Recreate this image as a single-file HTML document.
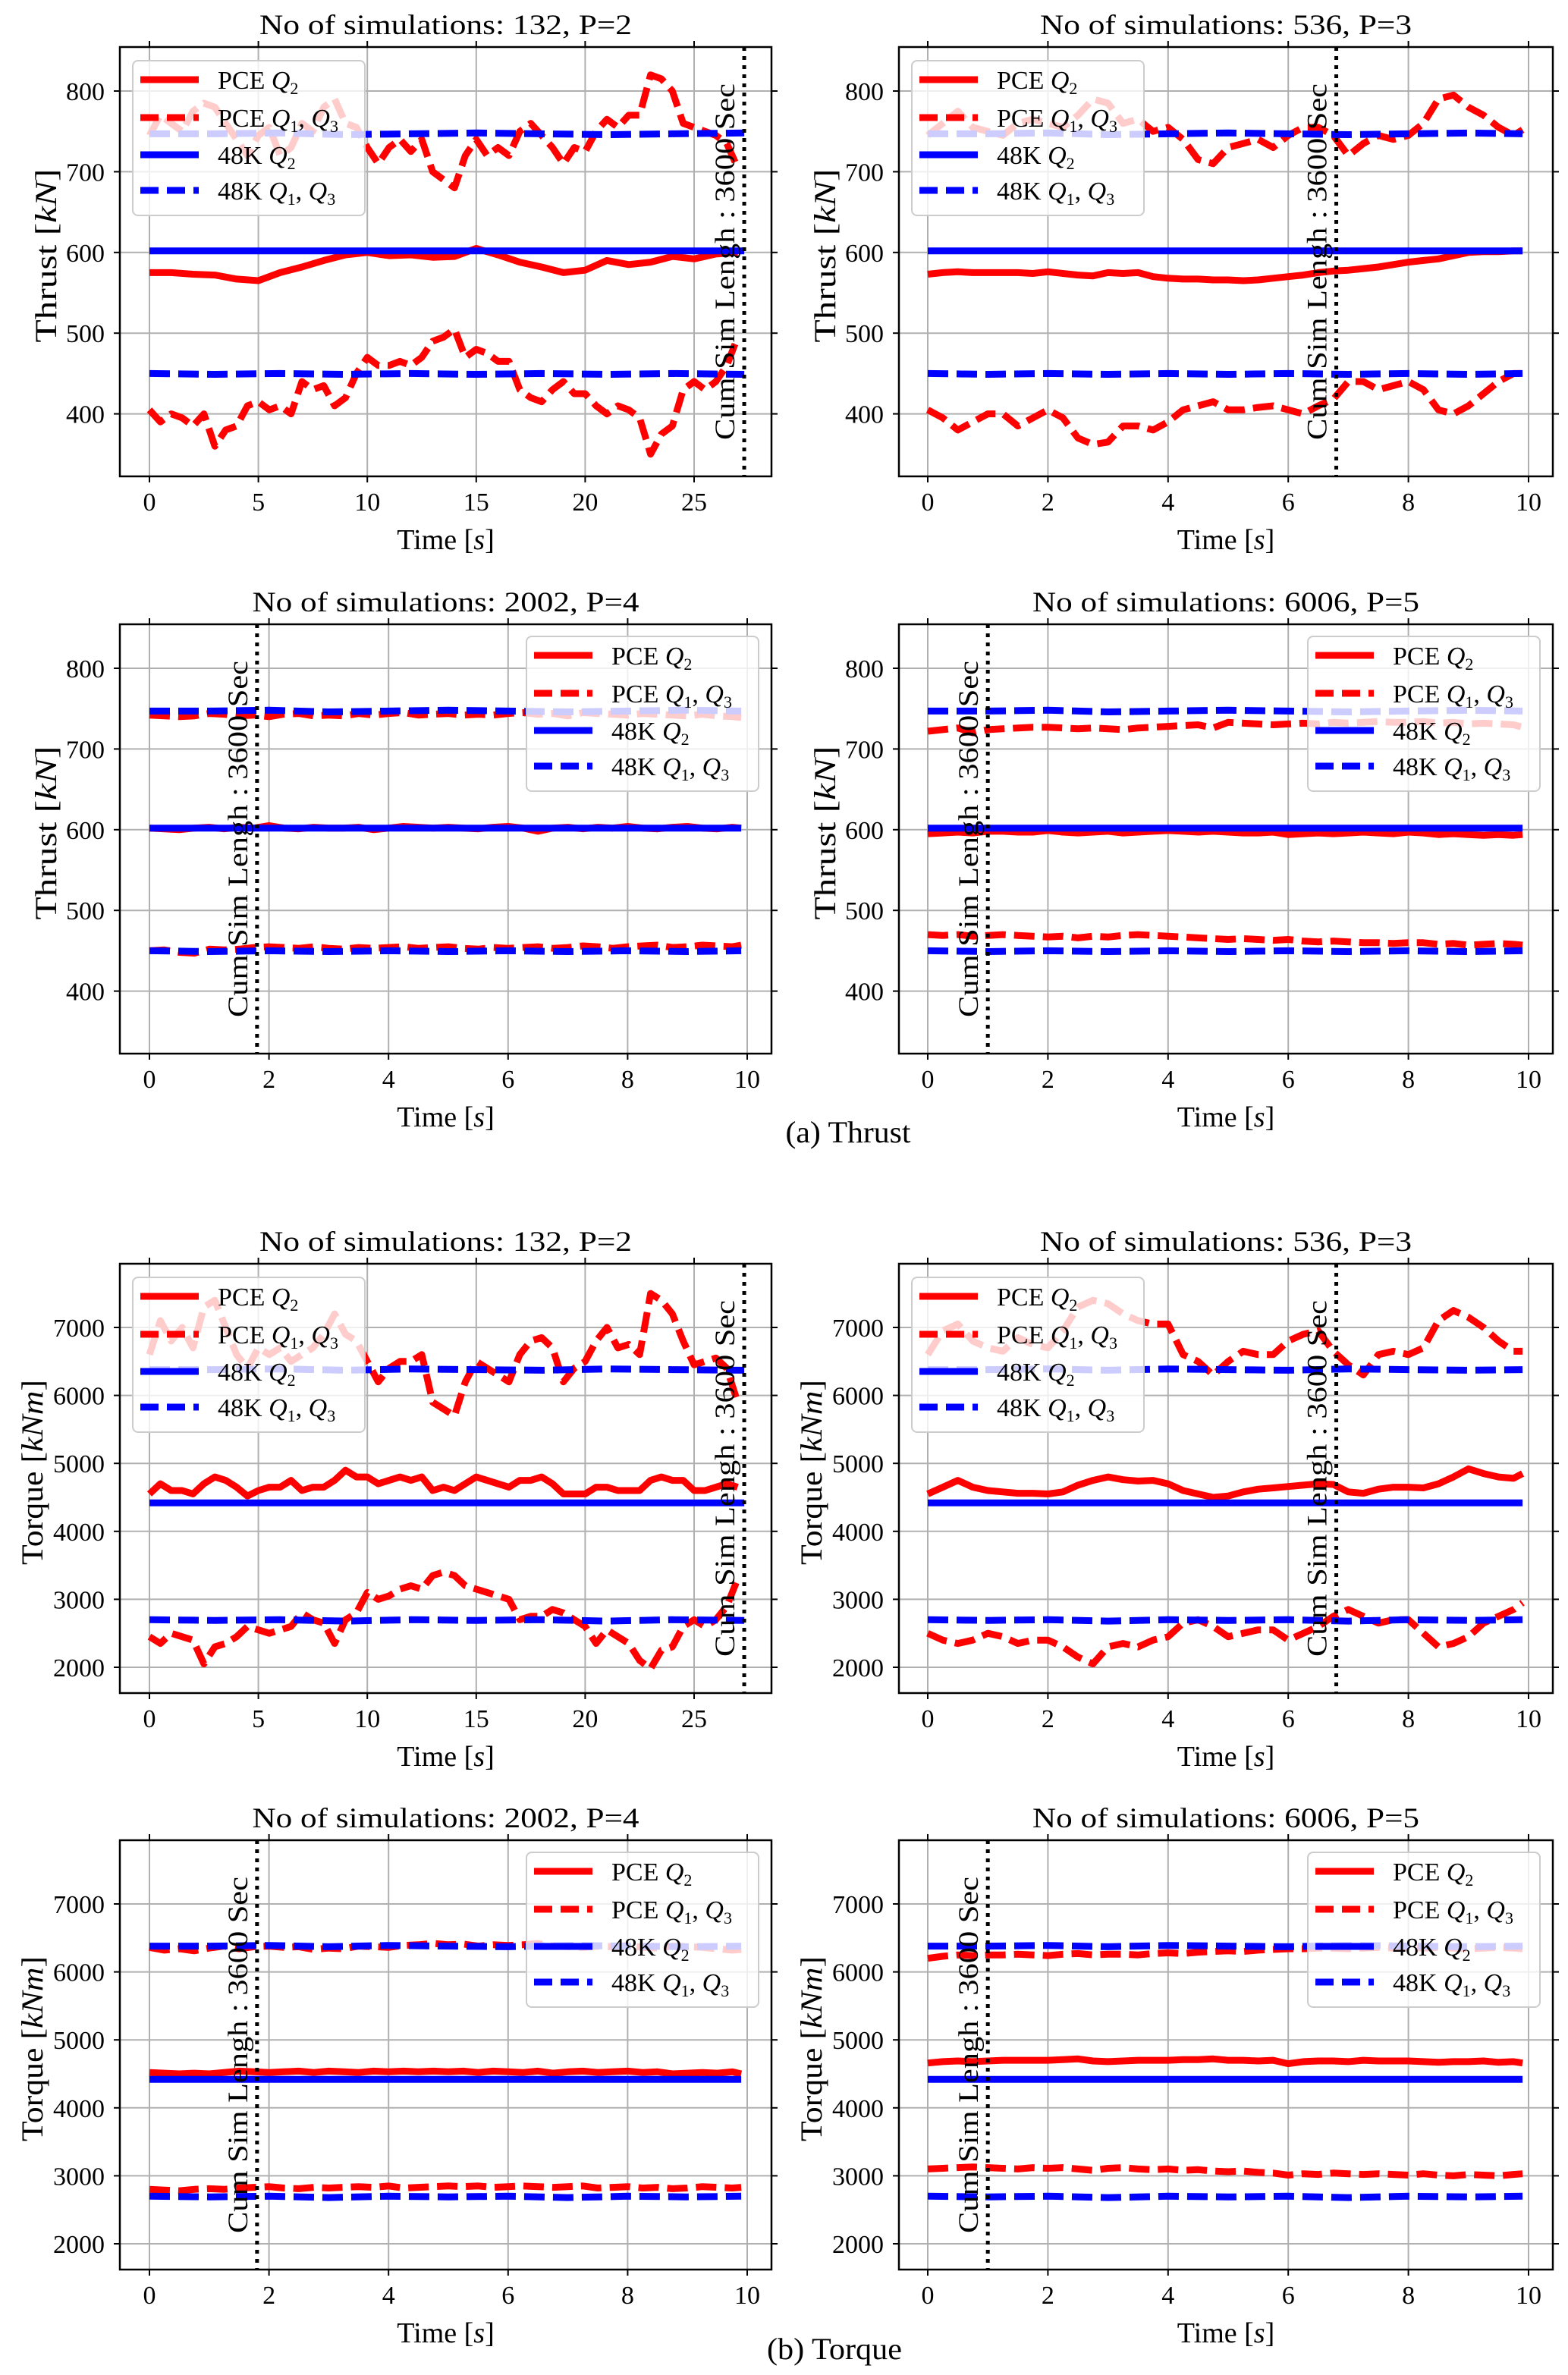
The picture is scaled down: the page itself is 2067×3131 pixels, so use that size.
<!DOCTYPE html>
<html><head><meta charset="utf-8"><title>PCE vs 48K Thrust and Torque</title>
<style>
html,body{margin:0;padding:0;background:#fff;}
svg{display:block;font-family:"Liberation Serif",serif;}
</style></head>
<body>
<svg id="fig" xmlns="http://www.w3.org/2000/svg" width="2067" height="3131" viewBox="0 0 2067 3131">
<rect x="0" y="0" width="2067" height="3131" fill="#fff"/>
</svg>
<script>
// ---- time arrays ----
const tInt = [0,1,2,3,4,5,6,7,8,9,10,11,12,13,14,15,16,17,18,19,20,21,22,23,24,25,26,27];
const tHalf = [0,0.5,1,1.5,2,2.5,3,3.5,4,4.5,5,5.5,6,6.5,7,7.5,8,8.5,9,9.5,10,10.5,11,11.5,12,12.5,13,13.5,14,14.5,15,15.5,16,16.5,17,17.5,18,18.5,19,19.5,20,20.5,21,21.5,22,22.5,23,23.5,24,24.5,25,25.5,26,26.5,27];
const tQuarter = [0,0.25,0.5,0.75,1,1.25,1.5,1.75,2,2.25,2.5,2.75,3,3.25,3.5,3.75,4,4.25,4.5,4.75,5,5.25,5.5,5.75,6,6.25,6.5,6.75,7,7.25,7.5,7.75,8,8.25,8.5,8.75,9,9.25,9.5,9.75,9.9];
const t48Long = [0,3,6,9,12,15,18,21,24,27.3];
const t48Short = [0,1,2,3,4,5,6,7,8,9,9.9];

// ---- 48K reference values ----
const k48ThrustQ2 = [602,602,602,602,602,602,602,602,602,602,602];
const k48ThrustQ3 = [747,747,748,746,747,748,747,746,747,748,747];
const k48ThrustQ1 = [450,449,450,449,450,449,450,449,450,449,450];
const k48TorqueQ2 = [4420,4420,4420,4420,4420,4420,4420,4420,4420,4420,4420];
const k48TorqueQ3 = [6380,6380,6390,6370,6390,6380,6370,6390,6380,6370,6380];
const k48TorqueQ1 = [2700,2690,2700,2680,2700,2690,2700,2680,2700,2690,2700];

// ---- Thrust P=2 ----
const thrustP2Q2 = [575,575,573,572,567,565,575,582,590,597,600,596,597,594,595,605,597,588,582,575,578,590,585,588,595,592,598,600];
const thrustP2Q3 = [745,770,760,750,775,785,780,760,740,720,745,755,720,730,760,750,780,790,760,755,730,710,730,740,725,740,700,690,680,720,740,720,730,720,750,760,745,730,710,730,725,750,765,755,770,770,820,815,800,760,755,750,745,735,705];
const thrustP2Q1 = [405,390,400,395,385,400,360,380,385,410,415,405,410,400,440,430,435,410,420,450,470,460,460,465,460,470,490,495,505,470,480,475,465,465,430,420,415,430,440,425,425,410,400,410,405,395,350,375,385,430,440,430,440,460,495];
// ---- Thrust P=3 ----
const thrustP3Q2 = [573,575,576,575,575,575,575,574,576,574,572,571,575,574,575,570,568,567,567,566,566,565,566,568,570,572,575,577,578,580,582,585,588,590,592,596,600,601,601,602,602];
const thrustP3Q3 = [745,760,775,755,750,745,760,765,760,755,770,790,785,760,765,750,755,740,715,710,730,735,740,730,745,755,755,745,720,735,745,740,745,760,790,795,780,770,755,745,752];
const thrustP3Q1 = [405,395,380,390,400,400,385,395,405,395,370,362,365,385,385,380,390,405,410,415,405,405,408,410,405,400,410,418,440,440,430,435,440,430,405,400,410,425,440,450,450];
// ---- Thrust P=4 ----
const thrustP4Q2 = [602,601,600,602,603,601,603,602,605,602,601,603,602,602,603,600,602,604,603,602,603,602,601,603,604,602,598,602,603,601,603,602,604,602,601,603,604,602,601,603,602];
const thrustP4Q3 = [742,741,740,741,744,743,741,742,740,743,744,741,742,741,744,742,744,745,742,743,744,742,743,742,744,745,743,744,741,745,744,743,742,744,743,742,741,743,741,740,739];
const thrustP4Q1 = [450,451,448,447,452,451,452,454,455,454,453,455,453,452,454,453,454,455,453,454,455,453,452,454,453,454,455,453,454,456,455,453,455,456,457,454,455,457,456,455,457];
// ---- Thrust P=5 ----
const thrustP5Q2 = [595,596,597,596,598,598,597,597,599,597,596,597,598,596,597,598,599,598,597,598,597,596,596,597,594,595,596,595,596,597,596,595,597,596,594,595,594,593,594,593,594];
const thrustP5Q3 = [722,724,726,720,724,725,726,727,727,726,725,726,725,724,726,727,728,729,730,726,733,732,731,730,731,732,731,733,732,733,734,733,733,734,732,733,731,732,731,730,727];
const thrustP5Q1 = [470,469,470,468,469,470,469,468,467,468,466,468,467,469,470,469,468,467,466,465,464,465,464,463,464,462,461,462,461,460,460,459,460,460,458,459,457,458,459,458,457];

// ---- Torque P=2 ----
const torqueP2Q2 = [4550,4700,4600,4600,4550,4700,4800,4750,4650,4520,4600,4650,4650,4750,4600,4650,4650,4750,4900,4800,4800,4700,4750,4800,4750,4800,4600,4650,4600,4700,4800,4750,4700,4650,4750,4750,4800,4700,4550,4550,4550,4650,4650,4600,4600,4600,4750,4800,4750,4750,4600,4600,4650,4700,4650];
const torqueP2Q3 = [6600,7100,6800,7000,6700,7300,7400,7000,6600,6400,6700,6600,6700,6500,6600,6700,6900,7200,6900,6800,6500,6200,6400,6500,6500,6600,5900,5800,5700,6200,6500,6400,6300,6200,6600,6800,6850,6700,6200,6400,6500,6800,7000,6700,6750,6600,7500,7400,7200,6800,6450,6500,6550,6400,5900];
const torqueP2Q1 = [2450,2350,2500,2450,2400,2050,2300,2350,2450,2600,2550,2500,2550,2600,2800,2700,2650,2350,2700,2800,3100,3000,3050,3150,3200,3150,3350,3400,3350,3200,3150,3100,3050,3000,2700,2750,2750,2850,2800,2700,2600,2350,2550,2450,2350,2100,1980,2250,2300,2600,2700,2600,2700,2900,3300];
// ---- Torque P=3 ----
const torqueP3Q2 = [4550,4650,4750,4650,4600,4580,4560,4560,4550,4580,4680,4750,4800,4760,4740,4750,4700,4600,4550,4500,4520,4580,4620,4640,4660,4680,4700,4690,4580,4560,4620,4650,4650,4640,4700,4800,4920,4850,4800,4780,4850];
const torqueP3Q3 = [6600,6950,7050,6800,6700,6650,6850,6750,6700,6950,7300,7400,7350,7200,7100,7050,7050,6600,6500,6300,6500,6650,6600,6600,6800,6900,6950,6650,6450,6300,6600,6650,6600,6700,7100,7250,7150,7000,6800,6650,6650];
const torqueP3Q1 = [2500,2400,2350,2400,2500,2450,2350,2400,2400,2300,2150,2050,2300,2350,2300,2400,2450,2650,2700,2600,2450,2500,2550,2550,2400,2500,2600,2750,2850,2750,2650,2700,2700,2500,2300,2350,2450,2650,2750,2850,2950];
// ---- Torque P=4 ----
const torqueP4Q2 = [4520,4510,4500,4510,4500,4520,4540,4530,4520,4530,4540,4520,4540,4530,4520,4540,4530,4540,4530,4540,4530,4540,4520,4540,4530,4520,4540,4510,4530,4540,4520,4530,4540,4520,4530,4500,4510,4520,4510,4530,4500];
const torqueP4Q3 = [6360,6320,6340,6310,6350,6380,6340,6370,6380,6360,6370,6330,6350,6340,6380,6370,6360,6390,6400,6420,6400,6410,6380,6400,6390,6400,6420,6380,6370,6360,6380,6370,6390,6360,6350,6380,6370,6360,6340,6320,6330];
const torqueP4Q1 = [2800,2790,2780,2800,2810,2800,2820,2830,2840,2820,2810,2830,2820,2830,2840,2830,2850,2820,2830,2840,2850,2840,2850,2830,2840,2850,2840,2830,2840,2850,2820,2830,2840,2820,2830,2810,2820,2840,2830,2820,2830];
// ---- Torque P=5 ----
const torqueP5Q2 = [4660,4680,4690,4680,4690,4700,4700,4700,4700,4710,4720,4690,4680,4690,4700,4700,4700,4710,4710,4720,4700,4700,4690,4700,4650,4680,4690,4690,4680,4700,4690,4690,4690,4680,4670,4680,4680,4690,4670,4680,4660];
const torqueP5Q3 = [6200,6230,6250,6240,6250,6250,6260,6250,6240,6260,6270,6250,6260,6260,6250,6270,6280,6270,6290,6300,6310,6300,6320,6330,6340,6340,6350,6350,6340,6350,6360,6350,6360,6350,6360,6350,6340,6350,6360,6350,6340];
const torqueP5Q1 = [3100,3110,3120,3130,3120,3110,3100,3120,3110,3120,3100,3080,3110,3120,3100,3090,3100,3080,3090,3070,3060,3070,3050,3040,3010,3030,3020,3040,3030,3020,3030,3020,3010,3030,3010,3000,3020,3010,3000,3020,3030];

// ---- axis ticks ----
const thrustTicks = [400,500,600,700,800];
const torqueTicks = [2000,3000,4000,5000,6000,7000];
const xTicksLong = [0,5,10,15,20,25];
const xTicksShort = [0,2,4,6,8,10];
const vlineLong = 27.3;
const vlineP3 = 6.8;
const vlineP4 = 1.8;
const vlineP5 = 1.0;

const NS = "http://www.w3.org/2000/svg";
const svg = document.getElementById('fig');
function mk(tag, attrs, parent){
  const e = document.createElementNS(NS, tag);
  for (const k in attrs) e.setAttribute(k, attrs[k]);
  (parent||svg).appendChild(e);
  return e;
}

const rows = [62, 823, 1666, 2426];
const BOXH = 566;
const cols = [{x0:158,x1:1017,px0:197},{x0:1185,x1:2047,px0:1223}];

function drawPanel(cfg){
  const col = cols[cfg.col];
  const top = rows[cfg.row], bot = top + BOXH;
  const long = cfg.long;
  const perUnit = long ? 28.72 : (cfg.col===0 ? 78.8 : 79.2);
  const xs = v => col.px0 + v*perUnit;
  let ys;
  if (cfg.kind==='thrust') ys = v => top + 58 + (800 - v)*1.064;
  else ys = v => top + 84 + (7000 - v)*0.0896;

  const g = mk('g', {});
  
  

  const cid = 'clip_'+cfg.name;
  const cp = mk('clipPath', {id:cid}, g);
  mk('rect', {x:col.x0, y:top, width:col.x1-col.x0, height:BOXH}, cp);

  const xt = long ? xTicksLong : xTicksShort;
  const yt = cfg.kind==='thrust' ? thrustTicks : torqueTicks;
  const grid = mk('g', {stroke:'#b0b0b0','stroke-width':2}, g);
  
  
  xt.forEach(v => mk('line', {x1:xs(v), x2:xs(v), y1:top, y2:bot}, grid));
  yt.forEach(v => mk('line', {x1:col.x0, x2:col.x1, y1:ys(v), y2:ys(v)}, grid));

  const plot = mk('g', {'clip-path':'url(#'+cid+')', fill:'none', 'stroke-linejoin':'round'}, g);
  function series(t, vals, color, dash, name){
    let d = '';
    const n = Math.min(t.length, vals.length);
    for (let i=0;i<n;i++) d += (i?'L':'M') + xs(t[i]).toFixed(1) + ',' + ys(vals[i]).toFixed(1);
    const p = mk('path', {d:d, stroke:color, 'stroke-width':9}, plot);
    if (dash) p.setAttribute('stroke-dasharray', '27,11');
    
    
  }
  const tq = long ? (cfg.kind==='thrust' ? tInt : tHalf) : tQuarter;
  const th = long ? tHalf : tQuarter;
  const t48 = long ? t48Long : t48Short;
  series(tq, cfg.q2, '#ff0000', false, 'pce-q2-line');
  series(th, cfg.q3, '#ff0000', true, 'pce-q3-line');
  series(th, cfg.q1, '#ff0000', true, 'pce-q1-line');
  const k2 = cfg.kind==='thrust' ? k48ThrustQ2 : k48TorqueQ2;
  const k3 = cfg.kind==='thrust' ? k48ThrustQ3 : k48TorqueQ3;
  const k1 = cfg.kind==='thrust' ? k48ThrustQ1 : k48TorqueQ1;
  series(t48, k2, '#0000ff', false, 'k48-q2-line');
  series(t48, k3, '#0000ff', true, 'k48-q3-line');
  series(t48, k1, '#0000ff', true, 'k48-q1-line');

  const vx = xs(cfg.vline);
  const vl = mk('line', {x1:vx, x2:vx, y1:top, y2:bot, stroke:'#000', 'stroke-width':5, 'stroke-dasharray':'5,7'}, g);
  
  
  const vt = mk('text', {x:0, y:0, 'font-size':37, fill:'#000', textLength:470, lengthAdjust:'spacingAndGlyphs',
    transform:'translate('+(vx-13)+','+(bot-48)+') rotate(-90)'}, g);
  vt.textContent = 'Cum Sim Lengh : 3600 Sec';
  
  

  mk('rect', {x:col.x0, y:top, width:col.x1-col.x0, height:BOXH, fill:'none', stroke:'#000', 'stroke-width':2.5}, g);
  const tk = mk('g', {stroke:'#000','stroke-width':2}, g);
  xt.forEach(v => { mk('line',{x1:xs(v),x2:xs(v),y1:bot,y2:bot+8},tk); mk('line',{x1:xs(v),x2:xs(v),y1:top,y2:top-8},tk); });
  yt.forEach(v => { mk('line',{x1:col.x0,x2:col.x0-8,y1:ys(v),y2:ys(v)},tk); mk('line',{x1:col.x1,x2:col.x1+8,y1:ys(v),y2:ys(v)},tk); });
  xt.forEach(v => {
    const t = mk('text', {x:xs(v), y:bot+45, 'font-size':34, 'text-anchor':'middle'}, g);
    t.textContent = String(v);
    
    
  });
  yt.forEach(v => {
    const t = mk('text', {x:col.x0-20, y:ys(v)+12, 'font-size':34, 'text-anchor':'end'}, g);
    t.textContent = String(v);
    
    
  });
  const xa = mk('text', {x:(col.x0+col.x1)/2, y:bot+96, 'font-size':38, 'text-anchor':'middle'}, g);
  xa.innerHTML = 'Time [<tspan font-style="italic">s</tspan>]';
  
  
  const isT = cfg.kind==='thrust';
  const yx = isT ? col.x0-96 : col.x0-114;
  const ya = mk('text', {x:0, y:0, 'font-size':40, 'text-anchor':'middle', textLength: isT?229:244, lengthAdjust:'spacingAndGlyphs',
     transform:'translate('+(yx+12)+','+((top+bot)/2 - 8)+') rotate(-90)'}, g);
  ya.innerHTML = isT ? 'Thrust [<tspan font-style="italic">kN</tspan>]' : 'Torque [<tspan font-style="italic">kNm</tspan>]';
  
  
  const tt = mk('text', {x:(col.x0+col.x1)/2, y:top-17, 'font-size':37, 'text-anchor':'middle', textLength:cfg.tlen, lengthAdjust:'spacingAndGlyphs'}, g);
  tt.textContent = cfg.title;
  
  

  const lw = 306, lh = 204;
  const lx = cfg.legendRight ? col.x1 - 17 - lw : col.x0 + 17;
  const ly = cfg.legendRight ? top + 16 : top + 18;
  const lg = mk('g', {}, g);
  
  
  mk('rect', {x:lx, y:ly, width:lw, height:lh, rx:7, fill:'#fff', 'fill-opacity':0.8, stroke:'#cccccc', 'stroke-width':2}, lg);
  const entries = [
    ['#ff0000',false,'PCE ','2',false],
    ['#ff0000',true,'PCE ','1',true],
    ['#0000ff',false,'48K ','2',false],
    ['#0000ff',true,'48K ','1',true]
  ];
  const offs = [25,75,124,171];
  entries.forEach((e,i) => {
    const yy = ly + offs[i];
    const le = mk('g', {}, lg);
    
    
    const ln = mk('line', {x1:lx+10, x2:lx+87, y1:yy, y2:yy, stroke:e[0], 'stroke-width':9}, le);
    if (e[1]) ln.setAttribute('stroke-dasharray','24,11');
    const tx = mk('text', {x:lx+112, y:yy+12, 'font-size':34}, le);
    let h = e[2] + '<tspan font-style="italic">Q</tspan><tspan font-size="22" dy="7">' + e[3] + '</tspan>';
    if (e[4]) h += '<tspan dy="-7">, </tspan><tspan font-style="italic">Q</tspan><tspan font-size="22" dy="7">3</tspan>';
    tx.innerHTML = h;
  });
}

drawPanel({name:'thrust-p2-panel', row:0, col:0, long:true, kind:'thrust', q2:thrustP2Q2, q3:thrustP2Q3, q1:thrustP2Q1, vline:vlineLong, title:'No of simulations: 132, P=2', tlen:491, legendRight:false});
drawPanel({name:'thrust-p3-panel', row:0, col:1, long:false, kind:'thrust', q2:thrustP3Q2, q3:thrustP3Q3, q1:thrustP3Q1, vline:vlineP3, title:'No of simulations: 536, P=3', tlen:490, legendRight:false});
drawPanel({name:'thrust-p4-panel', row:1, col:0, long:false, kind:'thrust', q2:thrustP4Q2, q3:thrustP4Q3, q1:thrustP4Q1, vline:vlineP4, title:'No of simulations: 2002, P=4', tlen:510, legendRight:true});
drawPanel({name:'thrust-p5-panel', row:1, col:1, long:false, kind:'thrust', q2:thrustP5Q2, q3:thrustP5Q3, q1:thrustP5Q1, vline:vlineP5, title:'No of simulations: 6006, P=5', tlen:510, legendRight:true});
drawPanel({name:'torque-p2-panel', row:2, col:0, long:true, kind:'torque', q2:torqueP2Q2, q3:torqueP2Q3, q1:torqueP2Q1, vline:vlineLong, title:'No of simulations: 132, P=2', tlen:491, legendRight:false});
drawPanel({name:'torque-p3-panel', row:2, col:1, long:false, kind:'torque', q2:torqueP3Q2, q3:torqueP3Q3, q1:torqueP3Q1, vline:vlineP3, title:'No of simulations: 536, P=3', tlen:490, legendRight:false});
drawPanel({name:'torque-p4-panel', row:3, col:0, long:false, kind:'torque', q2:torqueP4Q2, q3:torqueP4Q3, q1:torqueP4Q1, vline:vlineP4, title:'No of simulations: 2002, P=4', tlen:510, legendRight:true});
drawPanel({name:'torque-p5-panel', row:3, col:1, long:false, kind:'torque', q2:torqueP5Q2, q3:torqueP5Q3, q1:torqueP5Q1, vline:vlineP5, title:'No of simulations: 6006, P=5', tlen:510, legendRight:true});

const capA = mk('text', {x:1118, y:1506, 'font-size':40, 'text-anchor':'middle', textLength:165, lengthAdjust:'spacingAndGlyphs'});
capA.textContent = '(a) Thrust';


const capB = mk('text', {x:1100, y:3110, 'font-size':40, 'text-anchor':'middle', textLength:178, lengthAdjust:'spacingAndGlyphs'});
capB.textContent = '(b) Torque';


</script>
</body></html>
